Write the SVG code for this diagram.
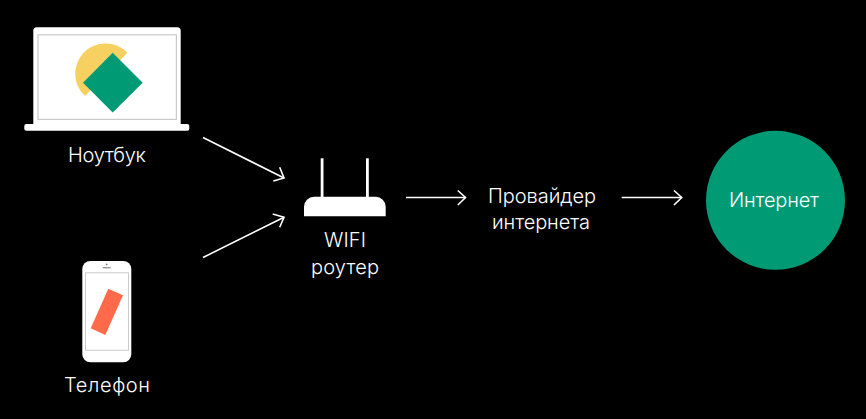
<svg xmlns="http://www.w3.org/2000/svg" width="866" height="419" viewBox="0 0 866 419">
<style>
.t{font-family:"Inter","Liberation Sans",sans-serif;font-size:20px;font-weight:300;fill:#fff;text-anchor:middle}
.c{fill:none;stroke:#fff;stroke-width:1.6}
.h{fill:none;stroke:#fff;stroke-width:1.6;stroke-linejoin:miter}
</style>
<rect width="866" height="419" fill="#000"/>
<g id="laptop">
<rect x="33.3" y="27.3" width="147.4" height="100" rx="3.5" fill="#fff"/>
<rect x="38" y="34.8" width="138.4" height="84.6" fill="#fff" stroke="#c9c9c9" stroke-width="1.2"/>
<rect x="24.3" y="124" width="165" height="6.8" rx="2" fill="#fff"/>
<path d="M127.3 52.7A30.28 30.28 0 1 0 85 96Z" fill="#f6d061"/>
<path d="M112.7 52.7L142.7 82.7L112.7 112.5L83 82.7Z" fill="#009b74"/>
<text class="t" x="107" y="162.3" textLength="78">Ноутбук</text>
</g>
<g id="phone">
<rect x="82.3" y="261" width="49" height="101.3" rx="8" fill="#fff"/>
<rect x="85.5" y="272.8" width="43" height="77.4" fill="#fff" stroke="#c9c9c9" stroke-width="1"/>
<rect x="102.7" y="267" width="8" height="1.4" fill="#999"/>
<circle cx="106.7" cy="264.4" r="0.9" fill="#777"/>
<path d="M108.3 288.7L123 295.3L105.3 335L90.7 328.3Z" fill="#ff6b4a"/>
<text class="t" x="107" y="391.7" textLength="86">Телефон</text>
</g>
<g id="router">
<rect x="320.7" y="158.3" width="2.8" height="40" fill="#fff"/>
<rect x="366" y="158.3" width="2.8" height="40" fill="#fff"/>
<path d="M304 216.3V206.7A10 10 0 0 1 314 196.7H375.7A10 10 0 0 1 385.7 206.7V216.3Z" fill="#fff"/>
<text class="t" x="345" y="247.3" textLength="42">WIFI</text>
<text class="t" x="345" y="273.5" textLength="68">роутер</text>
</g>
<g id="provider">
<text class="t" x="542" y="203.3" textLength="108">Провайдер</text>
<text class="t" x="541" y="229" textLength="98">интернета</text>
</g>
<g id="internet">
<circle cx="775.5" cy="200.3" r="69.5" fill="#009b74"/>
<text class="t" x="774" y="207.3" textLength="90">Интернет</text>
</g>
<g id="connectors">
<path class="c" d="M203 137.5L284 178"/><path class="h" d="M273.3 181L284 178L279.7 167.3"/>
<path class="c" d="M203 257.5L284 217.3"/><path class="h" d="M272.7 214L284 217.3L279.7 227.3"/>
<path class="c" d="M406 197.5H465.5"/><path class="h" d="M457.8 190.5L465.5 197.5L457.8 205"/>
<path class="c" d="M621.7 197.5H681.7"/><path class="h" d="M674 190.5L681.7 197.5L674 205"/>
</g>
</svg>
